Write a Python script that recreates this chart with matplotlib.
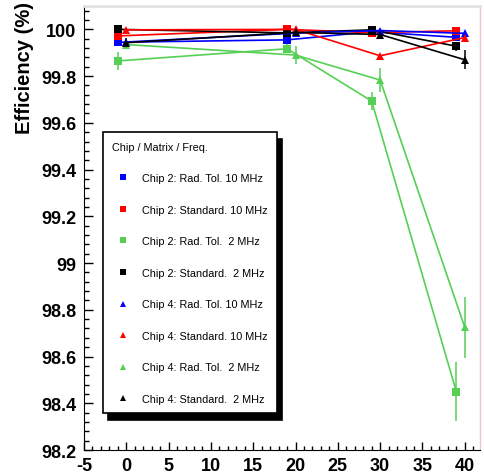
import matplotlib
matplotlib.use('Agg')
import matplotlib.pyplot as plt
from matplotlib.lines import Line2D
from matplotlib.ticker import MultipleLocator

plt.rcParams['font.family'] = ['Liberation Sans', 'DejaVu Sans']
plt.rcParams['axes.unicode_minus'] = False

# x positions: Chip 2 points are shifted by -1 to keep them apart
x_chip2 = [-1, 19, 29, 39]
x_chip4 = [0, 20, 30, 40]

labels = [
    'Chip 2: Rad. Tol. 10 MHz',
    'Chip 2: Standard. 10 MHz',
    'Chip 2: Rad. Tol.  2 MHz',
    'Chip 2: Standard.  2 MHz',
    'Chip 4: Rad. Tol. 10 MHz',
    'Chip 4: Standard. 10 MHz',
    'Chip 4: Rad. Tol.  2 MHz',
    'Chip 4: Standard.  2 MHz',
]

c2_radtol_10 = [99.945, 99.955, 99.990, 99.966]
c2_std_10 = [99.972, 100.000, 99.986, 99.994]
c2_radtol_2 = [99.865, 99.917, 99.693, 98.450]
c2_std_2 = [100.000, 99.985, 99.998, 99.928]
c4_radtol_10 = [99.946, 99.984, 99.995, 99.983]
c4_std_10 = [99.998, 100.000, 99.887, 99.965]
c4_radtol_2 = [99.935, 99.890, 99.783, 98.725]
c4_std_2 = [99.943, 99.987, 99.978, 99.870]

err_c2_radtol_10 = [0.010, 0.010, 0.008, 0.010]
err_c2_std_10 = [0.006, 0.004, 0.005, 0.005]
err_c2_radtol_2 = [0.040, 0.020, 0.038, 0.128]
err_c2_std_2 = [0.005, 0.005, 0.005, 0.020]
err_c4_radtol_10 = [0.010, 0.008, 0.008, 0.010]
err_c4_std_10 = [0.006, 0.004, 0.008, 0.010]
err_c4_radtol_2 = [0.020, 0.038, 0.050, 0.130]
err_c4_std_2 = [0.020, 0.005, 0.010, 0.040]

series = [
    (x_chip2, c2_radtol_10, err_c2_radtol_10),
    (x_chip2, c2_std_10, err_c2_std_10),
    (x_chip2, c2_radtol_2, err_c2_radtol_2),
    (x_chip2, c2_std_2, err_c2_std_2),
    (x_chip4, c4_radtol_10, err_c4_radtol_10),
    (x_chip4, c4_std_10, err_c4_std_10),
    (x_chip4, c4_radtol_2, err_c4_radtol_2),
    (x_chip4, c4_std_2, err_c4_std_2),
]
colors = ['#0000ff', '#ff0000', '#55d055', '#000000'] * 2
markers = ['s'] * 4 + ['^'] * 4

fig = plt.figure(figsize=(4.84, 4.77), dpi=100)
ax = fig.add_axes([84 / 484, 26 / 477, 396 / 484, 444 / 477])

for (xs, ys, es), col, mk in zip(series, colors, markers):
    ax.errorbar(xs, ys, yerr=es, color=col, marker=mk, markersize=5.5,
                markeredgewidth=0, linewidth=1.2, elinewidth=1.1,
                capsize=4, capthick=1.1)

ax.set_xlim(-5, 41.8)
ax.set_ylim(98.2, 100.1)
ax.xaxis.set_major_locator(MultipleLocator(5))
ax.xaxis.set_minor_locator(MultipleLocator(1))
ax.yaxis.set_major_locator(MultipleLocator(0.2))
ax.yaxis.set_minor_locator(MultipleLocator(0.04))
ax.yaxis.set_major_formatter(plt.FuncFormatter(lambda v, p: f'{v:g}'))

ax.tick_params(which='both', direction='in', top=False, right=False,
               labelsize=13, width=1)
ax.tick_params(axis='y', which='major', length=6.7, pad=5.5)
ax.tick_params(axis='y', which='minor', length=3.4)
ax.tick_params(axis='x', which='major', length=6, pad=5)
ax.tick_params(axis='x', which='minor', length=3)
for lab in ax.get_xticklabels() + ax.get_yticklabels():
    lab.set_fontweight('bold')

ax.spines['top'].set_color('#e2e2e2')
ax.spines['top'].set_linewidth(2)
ax.spines['right'].set_color('#ecc8c8')
ax.spines['right'].set_linewidth(1)

fig.text(24 / 484, 1 - 2 / 477, 'Efficiency (%)', rotation=90,
         ha='center', va='top', fontsize=14.5, fontweight='bold')

handles = [Line2D([], [], color=c, marker=m, linestyle='none', markersize=5,
                  markeredgewidth=0) for c, m in zip(colors, markers)]
leg = ax.legend(handles, labels, title='Chip / Matrix / Freq.',
                loc='upper left', bbox_to_anchor=(102.7 / 484, 1 - 133.3 / 477),
                bbox_transform=fig.transFigure, borderaxespad=0,
                fontsize=7.8, title_fontsize=7.8, alignment='left',
                handlelength=2.0, handletextpad=0.8, labelspacing=1.99,
                borderpad=0.85, fancybox=False, framealpha=1,
                edgecolor='black',
                shadow={'ox': 3.5, 'oy': -5, 'facecolor': 'black',
                        'edgecolor': 'black', 'alpha': 1})
leg.get_frame().set_linewidth(1.2)

fig.savefig('out.png', dpi=100)
